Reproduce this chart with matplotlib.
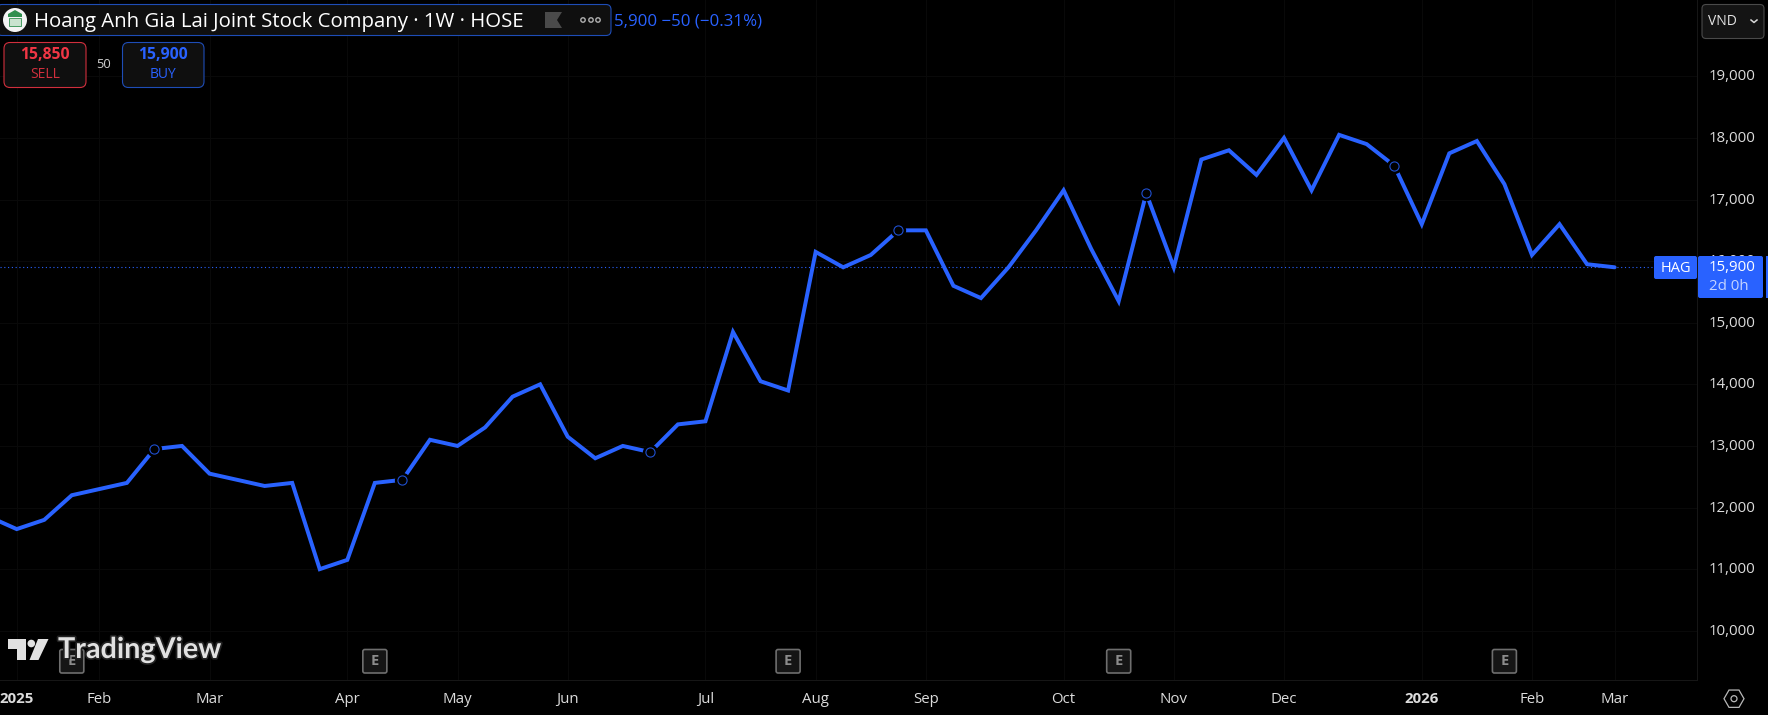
import matplotlib
matplotlib.use("Agg")
import matplotlib.pyplot as plt
import matplotlib.patheffects as pe
from matplotlib.patches import FancyBboxPatch, Polygon, Circle, RegularPolygon, Rectangle
from matplotlib.transforms import ScaledTranslation
import numpy as np

plt.rcParams['font.family'] = ['Open Sans', 'DejaVu Sans']

# weekly closes, first one sits just off the left edge
weeks = list(range(-1, 59))
closes = [11850, 11650, 11800, 12200, 12300, 12400, 12950, 13000, 12550, 12450,
          12350, 12400, 11000, 11150, 12400, 12450, 13100, 13000, 13300, 13800,
          14000, 13150, 12800, 13000, 12900, 13350, 13400, 14850, 14050, 13900,
          16150, 15900, 16100, 16500, 16500, 15600, 15400, 15900, 16500, 17150,
          16200, 15350, 17100, 15900, 17650, 17800, 17400, 18000, 17150, 18050,
          17900, 17550, 16600, 17750, 17950, 17250, 16100, 16600, 15950, 15900]

price_ticks = [10000, 11000, 12000, 13000, 14000, 15000, 16000, 17000, 18000, 19000]
month_weeks = [0, 3, 7, 12, 16, 20, 25, 29, 33, 38, 42, 46, 51, 55, 58]
month_labels = ['2025', 'Feb', 'Mar', 'Apr', 'May', 'Jun', 'Jul', 'Aug', 'Sep', 'Oct',
                'Nov', 'Dec', '2026', 'Feb', 'Mar']
circle_weeks = [5, 14, 23, 32, 41, 50]
earnings_weeks = [2, 13, 28, 40, 54]
last_price = 15900

BLUE = '#2962ff'
W, H = 1768, 715
fig = plt.figure(figsize=(W / 100, H / 100), dpi=100, facecolor='black')

# chart area, right edge is the price scale and bottom edge is the time scale
ax = fig.add_axes([0, (H - 680) / H, 1697 / W, 680 / H], facecolor='black')
ax.set_xlim(-16.7 / 27.55, (1697 - 16.7) / 27.55)
ax.set_ylim(15900 - 412.7 / 0.0616, 15900 + 267.3 / 0.0616)

ax.yaxis.tick_right()
ax.set_yticks(price_ticks)
ax.set_yticklabels([f'{p:,}' for p in price_ticks])
ax.set_xticks(month_weeks)
ax.set_xticklabels(month_labels)
for lab in ax.get_xticklabels():
    if lab.get_text() in ('2025', '2026'):
        lab.set_fontweight('bold')
ax.tick_params(axis='y', length=0, pad=8.5, labelsize=10.8, labelcolor='#dcdcdc')
ax.tick_params(axis='x', length=0, pad=8.5, labelsize=10.8, labelcolor='#dcdcdc')
# price labels sit a little above their grid lines
nudge = ScaledTranslation(0, 1.5 / 100, fig.dpi_scale_trans)
for lab in ax.get_yticklabels():
    lab.set_transform(lab.get_transform() + nudge)
ax.grid(True, color='#090909', lw=0.72)
ax.set_axisbelow(True)
for s in ['top', 'left']:
    ax.spines[s].set_visible(False)
for s in ['right', 'bottom']:
    ax.spines[s].set_color('#161616')
    ax.spines[s].set_linewidth(0.72)

ax.axhline(last_price, color=BLUE, lw=0.8, ls=(0, (1, 2.4)), zorder=2)
ax.plot(weeks, closes, color=BLUE, lw=2.85, solid_joinstyle='miter', solid_capstyle='round', zorder=3)

circle_vals = [closes[weeks.index(w)] for w in circle_weeks]
ax.plot(circle_weeks, circle_vals, ls='none', marker='o', ms=11, mfc='black', mec='none', zorder=4)
ax.plot(circle_weeks, circle_vals, ls='none', marker='o', ms=6.6, mfc='black', mec='#1f4fcf', mew=0.8, zorder=5)

# everything else is chart furniture, placed in pixels on an overlay
ui = fig.add_axes([0, 0, 1, 1], facecolor='none')
ui.set_xlim(0, W)
ui.set_ylim(H, 0)
ui.axis('off')


def rbox(x0, y0, x1, y1, face, edge, r=5, lw=0.8, z=6):
    ui.add_patch(FancyBboxPatch((x0 + r, y0 + r), x1 - x0 - 2 * r, y1 - y0 - 2 * r,
                                boxstyle=f'round,pad={r},rounding_size={r}',
                                fc=face, ec=edge, lw=lw, zorder=z))


# earnings badges
fig.canvas.draw()
for w in earnings_weeks:
    px = ax.transData.transform((w, 15000))[0]
    rbox(px - 12, 649.5, px + 12, 673, '#151515', '#6e6e6e', r=2, lw=1.2)
    ui.text(px, 661, 'E', color='#8c8c8c', fontsize=10.5, fontweight='bold', ha='center', va='center', zorder=7)

# tradingview logo
logo_c = '#e1e1e1'
halo = [pe.withStroke(linewidth=2.5, foreground='#222222')]
ui.add_patch(Polygon([(8, 639), (26, 639), (26, 660), (17, 660), (17, 649), (8, 649)], fc=logo_c, ec='none', zorder=8))
ui.add_patch(Circle((31.3, 643.5), 3.8, fc=logo_c, ec='none', zorder=8))
ui.add_patch(Polygon([(38, 639), (48.5, 639), (38.5, 660), (29.5, 660)], fc=logo_c, ec='none', zorder=8))
ui.text(58, 650, 'TradingView', color=logo_c, fontsize=20.7, fontweight='bold', family=['Lato', 'DejaVu Sans'],
        ha='left', va='center', zorder=8, path_effects=halo)

# header
rbox(-3, 4.5, 611, 35.5, '#0f0f0f', '#1e4db7')
ui.add_patch(Circle((15, 20), 12, fc='#f4f4f4', ec='none', zorder=7))
ui.add_patch(Polygon([(8, 14), (15, 10), (22, 14), (22, 17), (8, 17)], fc='#2f8f4e', ec='none', zorder=8))
ui.add_patch(Rectangle((9, 18), 12, 8, fc='#c9e3cf', ec='#2f8f4e', lw=0.6, zorder=8))
ui.text(33.5, 21.5, 'Hoang Anh Gia Lai Joint Stock Company · 1W · HOSE', color='white', fontsize=14.7,
        ha='left', va='center', zorder=7)
ui.add_patch(Polygon([(545, 12), (562, 12), (557, 20), (562, 28), (545, 28)], fc='#4a4a4a', ec='none', zorder=7))
for cx in [583, 591, 598]:
    ui.add_patch(Circle((cx, 20), 2.2, fc='none', ec='#b0b0b0', lw=1, zorder=7))
ui.text(614, 21, '5,900 −50 (−0.31%)', color=BLUE, fontsize=12.2, ha='left', va='center', zorder=7)

# sell and buy buttons
rbox(4, 42.5, 86, 87.5, '#0f0f0f', '#d12f3d', r=6)
rbox(122.5, 42.5, 204, 87.5, '#0f0f0f', '#1e4db7', r=6)
ui.text(45, 55, '15,850', color='#f23645', fontsize=11.3, fontweight='bold', ha='center', va='center', zorder=7)
ui.text(45, 75, 'SELL', color='#d12f3d', fontsize=10, ha='center', va='center', zorder=7)
ui.text(163, 55, '15,900', color=BLUE, fontsize=11.3, fontweight='bold', ha='center', va='center', zorder=7)
ui.text(163, 75, 'BUY', color=BLUE, fontsize=10, ha='center', va='center', zorder=7)
ui.text(104, 65, '50', color='#d0d0d0', fontsize=9.3, ha='center', va='center', zorder=7)

# currency button
rbox(1702, 4.5, 1764, 38.5, '#141414', '#4a4a4a', r=4)
ui.text(1722, 21.5, 'VND', color='#e6e6e6', fontsize=10, ha='center', va='center', zorder=7)
ui.plot([1751, 1754, 1757], [20, 22.5, 20], color='#d8d8d8', lw=1.1, zorder=7)

# last price labels
rbox(1654, 256, 1697, 279, BLUE, BLUE, r=2, lw=0)
rbox(1698, 256, 1763, 298, BLUE, BLUE, r=2, lw=0)
ui.add_patch(Rectangle((1765.5, 256), 3, 42, fc=BLUE, ec='none', zorder=6))
ui.text(1675.5, 268, 'HAG', color='white', fontsize=10.5, ha='center', va='center', zorder=7)
ui.text(1709, 267.5, '15,900', color='white', fontsize=10.8, ha='left', va='center', zorder=7)
ui.text(1709, 286, '2d 0h', color='#c4d4ff', fontsize=10.8, ha='left', va='center', zorder=7)

# settings hexagon
ui.add_patch(RegularPolygon((1734, 698.7), 6, radius=10, orientation=np.pi / 6, fc='none', ec='#b8b8b8', lw=0.9, zorder=7))
ui.add_patch(Circle((1734, 698.7), 3, fc='none', ec='#b8b8b8', lw=0.9, zorder=7))

fig.savefig('out.png', dpi=100, facecolor='black')
